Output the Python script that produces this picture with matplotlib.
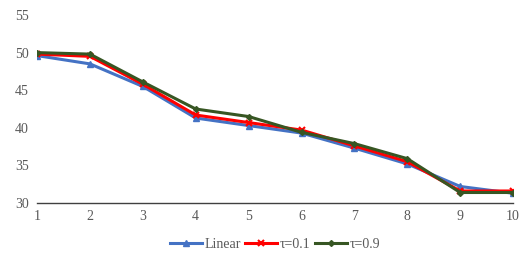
import matplotlib.pyplot as plt

x = list(range(1, 11))
linear = [49.6, 48.5, 45.5, 41.3, 40.3, 39.3, 37.3, 35.2, 32.2, 31.3]
tau01 = [49.8, 49.5, 45.8, 41.7, 40.7, 39.7, 37.6, 35.5, 31.6, 31.6]
tau09 = [50.0, 49.8, 46.1, 42.5, 41.5, 39.4, 37.9, 35.9, 31.4, 31.4]

plt.rcParams['font.family'] = ['Liberation Serif', 'DejaVu Serif']

fig = plt.figure(figsize=(5.29, 2.63), dpi=100)
ax = fig.add_axes([0.07, 0.228, 0.90, 0.715])

ax.plot(x, linear, color='#4472C4', lw=2.2, marker='^', ms=4, label='Linear')
ax.plot(x, tau01, color='#FF0000', lw=2.2, marker='x', ms=4, mew=1.5, label='τ=0.1')
ax.plot(x, tau09, color='#375623', lw=2.2, marker='D', ms=3, label='τ=0.9')

ax.set_xlim(1, 10)
ax.set_ylim(30, 55)
ax.set_xticks(x)
ax.set_yticks([30, 35, 40, 45, 50, 55])
for s in ['top', 'right', 'left']:
    ax.spines[s].set_visible(False)
ax.spines['bottom'].set_color('#404040')
ax.spines['bottom'].set_linewidth(1.0)
ax.tick_params(length=0, labelsize=10, colors='#595959', pad=5)
ax.tick_params(axis='y', pad=6)

ax.legend(loc='upper center', bbox_to_anchor=(0.5, -0.12), ncol=3, frameon=False,
          fontsize=10, handlelength=2.3, handletextpad=0.2, columnspacing=0.3,
          labelcolor='#595959')

fig.savefig('out.png', dpi=100)
